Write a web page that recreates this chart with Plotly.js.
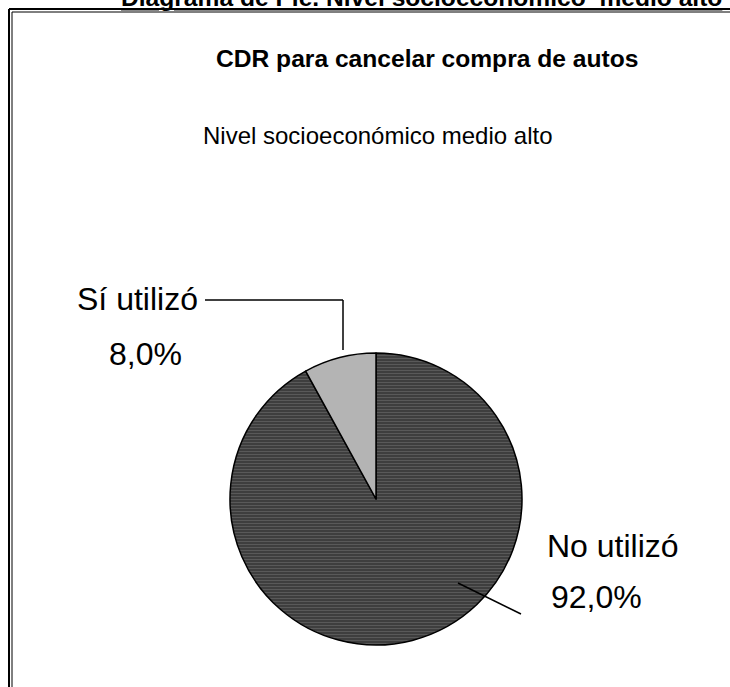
<!DOCTYPE html>
<html>
<head>
<meta charset="utf-8">
<script src="https://cdn.plot.ly/plotly-3.0.1.min.js"></script>
<style>html,body{margin:0;padding:0;background:#fff;}#chart{width:730px;height:687px;}</style>
</head>
<body>
<div id="chart"></div>
<script>
// ---- data ----
const labels = ["No utilizó", "Sí utilizó"];
const values = [92.0, 8.0];
const sliceColors = ["#3e3e3e", "#b4b4b4"];
const headerText = "Diagrama de Pie. Nivel socioeconómico  medio alto";
const titleText = "CDR para cancelar compra de autos";
const subtitleText = "Nivel socioeconómico medio alto";

const W = 730, H = 687;
const px = x => x / W;
const py = y => 1 - y / H;
const fmt = v => v.toFixed(1).replace('.', ',') + '%';

const cx = 376, cy = 499, r = 146;

const trace = {
  type: 'pie',
  labels: labels,
  values: values,
  sort: false,
  direction: 'clockwise',
  rotation: 0,
  textinfo: 'none',
  hoverinfo: 'label+percent',
  showlegend: false,
  domain: {x: [px(cx - r), px(cx + r)], y: [py(cy + r), py(cy - r)]},
  marker: {
    colors: sliceColors,
    line: {color: '#000', width: 1.5},
    pattern: {
      shape: ['-', ''],
      fgcolor: ['#5c5c5c', '#b4b4b4'],
      bgcolor: ['#3e3e3e', '#b4b4b4'],
      size: 3,
      solidity: 0.3
    }
  }
};

const font = 'Arial, "Liberation Sans", sans-serif';
const LS = 32;
const annotations = [
  {text: '<b><u>' + headerText + '</u></b>', x: px(421), y: py(-2), xref: 'paper', yref: 'paper',
   xanchor: 'center', yanchor: 'middle', showarrow: false, font: {family: font, size: 24.6, color: '#000'}},
  {text: '<b>' + titleText + '</b>', x: px(427), y: py(59), xref: 'paper', yref: 'paper',
   xanchor: 'center', yanchor: 'middle', showarrow: false, font: {family: font, size: 24.6, color: '#000'}},
  {text: subtitleText, x: px(378), y: py(136), xref: 'paper', yref: 'paper',
   xanchor: 'center', yanchor: 'middle', showarrow: false, font: {family: font, size: 24, color: '#000'}},
  {text: labels[1], x: px(200), y: py(299), xref: 'paper', yref: 'paper',
   xanchor: 'right', yanchor: 'middle', showarrow: false, font: {family: font, size: LS, color: '#000'}},
  {text: fmt(values[1]), x: px(145), y: py(354), xref: 'paper', yref: 'paper',
   xanchor: 'center', yanchor: 'middle', showarrow: false, font: {family: font, size: LS, color: '#000'}},
  {text: labels[0], x: px(545), y: py(546), xref: 'paper', yref: 'paper',
   xanchor: 'left', yanchor: 'middle', showarrow: false, font: {family: font, size: LS, color: '#000'}},
  {text: fmt(values[0]), x: px(596), y: py(597), xref: 'paper', yref: 'paper',
   xanchor: 'center', yanchor: 'middle', showarrow: false, font: {family: font, size: LS, color: '#000'}}
];

const ln = (x0, y0, x1, y1, w) => ({type: 'line', xref: 'paper', yref: 'paper',
  x0: px(x0), y0: py(y0), x1: px(x1), y1: py(y1), line: {color: '#000', width: w}});

const shapes = [
  // frame
  ln(9, 9, 730, 9, 2),
  ln(9, 9, 9, 687, 2),
  ln(12, 12, 730, 12, 1),
  ln(12, 12, 12, 687, 1),
  // leader lines
  ln(205, 300, 343, 300, 1.5),
  ln(343, 300, 343, 350, 1.5),
  ln(458, 583, 521, 614, 1.5)
];

const layout = {
  width: W, height: H, autosize: false,
  margin: {l: 0, r: 0, t: 0, b: 0},
  paper_bgcolor: '#fff', plot_bgcolor: '#fff',
  font: {family: font},
  annotations: annotations,
  shapes: shapes
};

Plotly.newPlot('chart', [trace], layout, {displayModeBar: false, staticPlot: true});
</script>
</body>
</html>
